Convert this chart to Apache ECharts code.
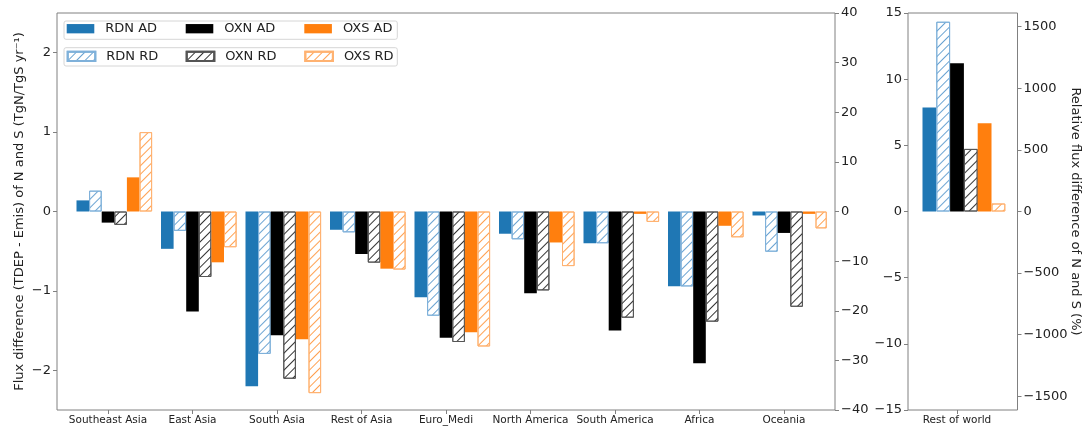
<!DOCTYPE html>
<html>
<head>
<meta charset="utf-8">
<script src="https://cdn.jsdelivr.net/npm/echarts@6/dist/echarts.min.js"></script>
<style>html,body{margin:0;padding:0;background:#fff}#c{width:1083px;height:426px}</style>
</head>
<body>
<div id="c"></div>
<script>
// ---- data ----
const categories = ['Southeast Asia','East Asia','South Asia','Rest of Asia','Euro_Medi','North America','South America','Africa','Oceania'];
// absolute differences (TgN/TgS yr-1)
const rdnAD = [0.14,-0.47,-2.20,-0.23,-1.08,-0.28,-0.40,-0.94,-0.05];
const oxnAD = [-0.14,-1.26,-1.56,-0.535,-1.59,-1.03,-1.50,-1.91,-0.27];
const oxsAD = [0.43,-0.64,-1.61,-0.72,-1.52,-0.39,-0.03,-0.18,-0.03];
// relative differences (%)
const rdnRD = [4.2,-3.9,-28.7,-4.2,-21.0,-5.6,-6.4,-15.1,-8.1];
const oxnRD = [-2.7,-13.2,-33.7,-10.3,-26.3,-15.9,-21.4,-22.2,-19.2];
const oxsRD = [16.0,-7.2,-36.6,-11.7,-27.2,-11.0,-2.1,-5.2,-3.4];
// rest of world
const worldCategories = ['Rest of world'];
const worldRdnAD = [7.85];
const worldOxnAD = [11.2];
const worldOxsAD = [6.67];
const worldRdnRD = [1540];
const worldOxnRD = [508];
const worldOxsRD = [65];
// tick labels
const leftTicks = [-2,-1,0,1,2];
const rightTicks = [-40,-30,-20,-10,0,10,20,30,40];
const worldLeftTicks = [-15,-10,-5,0,5,10,15];
const worldRightTicks = [-1500,-1000,-500,0,500,1000,1500];
const seriesNames = ['RDN AD','RDN RD','OXN AD','OXN RD','OXS AD','OXS RD'];

// ---- styles ----
const FONT = 'DejaVu Sans';
const TXT = '#222';
const FRAME = '#808080';
const fmt = v => (v < 0 ? '\u2212' + (-v) : String(v));
function hatch(edge, line){
  return {
    color: '#ffffff', borderColor: edge, borderWidth: 1,
    decal: { symbol: 'rect', symbolSize: 1, color: line, dashArrayX: [1, 0], dashArrayY: [1, 5], rotation: -Math.PI / 4 }
  };
}
const styles = {
  'RDN AD': { color: '#1f77b4' },
  'RDN RD': hatch('#7fb1da', '#6aa3d2'),
  'OXN AD': { color: '#000000' },
  'OXN RD': hatch('#555555', '#333333'),
  'OXS AD': { color: '#ff7f0e' },
  'OXS RD': hatch('#ffb271', '#ffa050')
};

function valAxis(gridIndex, pos, min, max, ticks, show, extra){
  const o = {
    type: 'value', gridIndex, position: pos, min, max, show,
    splitLine: { show: false },
    axisLine: { show: false },
    axisTick: { show: true, length: 4, lineStyle: { color: FRAME }, customValues: ticks },
    axisLabel: { show: true, fontFamily: FONT, fontSize: 13, color: TXT, margin: 6, formatter: fmt, customValues: ticks }
  };
  return Object.assign(o, extra || {});
}

const grids = [
  { left: 57, top: 13, width: 778, height: 397, show: true, borderColor: FRAME, borderWidth: 1, backgroundColor: 'transparent' },
  { left: 65.75, top: 13, width: 760.5, height: 397 },
  { left: 908, top: 13, width: 111, height: 397, show: true, borderColor: FRAME, borderWidth: 1, backgroundColor: 'transparent' },
  { left: 901.5, top: 13, width: 111, height: 397 }
];

function catAxis(gridIndex, data){
  return {
    type: 'category', gridIndex, data, position: 'bottom',
    axisLine: { show: true, onZero: false, lineStyle: { color: 'rgba(0,0,0,0)' } },
    axisTick: { show: true, alignWithLabel: true, length: 4, lineStyle: { color: FRAME } },
    axisLabel: { fontFamily: FONT, fontSize: 10.5, color: TXT, margin: 5, interval: 0 }
  };
}

const xAxis = [
  { type: 'value', gridIndex: 0, show: false, min: 0, max: 1 },
  catAxis(1, categories),
  { type: 'value', gridIndex: 2, show: false, min: 0, max: 1 },
  catAxis(3, worldCategories)
];

const yAxis = [
  valAxis(0, 'left', -2.5, 2.5, leftTicks, true, {
    name: 'Flux difference (TDEP - Emis) of N and S (TgN/TgS yr\u207B\u00B9)',
    nameLocation: 'middle', nameGap: 31, nameMoveOverlap: false,
    nameTextStyle: { fontFamily: FONT, fontSize: 13, color: TXT }
  }),
  valAxis(0, 'right', -40, 40, rightTicks, true),
  { type: 'value', gridIndex: 1, min: -2.5, max: 2.5, show: false, splitLine: { show: false } },
  { type: 'value', gridIndex: 1, min: -40, max: 40, show: false, splitLine: { show: false } },
  valAxis(2, 'left', -15, 15, worldLeftTicks, true),
  valAxis(2, 'right', -1611, 1611, worldRightTicks, true, {
    name: 'Relative flux difference of N and S (%)',
    nameLocation: 'middle', nameGap: 51.5, nameRotate: -90, nameMoveOverlap: false,
    nameTextStyle: { fontFamily: FONT, fontSize: 13, color: TXT }
  }),
  { type: 'value', gridIndex: 3, min: -15, max: 15, show: false, splitLine: { show: false } },
  { type: 'value', gridIndex: 3, min: -1611, max: 1611, show: false, splitLine: { show: false } }
];

function bar(name, data, xi, yi, w){
  return {
    type: 'bar', name, data, xAxisIndex: xi, yAxisIndex: yi,
    barWidth: w, barGap: '0%', itemStyle: styles[name],
    emphasis: { disabled: true }, animation: false
  };
}
const series = [];
// panel 1 (a leading empty slot so that the 3rd bar sits on the tick)
series.push({ type: 'bar', name: '_pad', data: [], xAxisIndex: 1, yAxisIndex: 2, barWidth: 12.6, barGap: '0%' });
series.push(bar('RDN AD', rdnAD, 1, 2, 12.6));
series.push(bar('RDN RD', rdnRD, 1, 3, 12.6));
series.push(bar('OXN AD', oxnAD, 1, 2, 12.6));
series.push(bar('OXN RD', oxnRD, 1, 3, 12.6));
series.push(bar('OXS AD', oxsAD, 1, 2, 12.6));
series.push(bar('OXS RD', oxsRD, 1, 3, 12.6));
// panel 2
series.push({ type: 'bar', name: '_pad', data: [], xAxisIndex: 3, yAxisIndex: 6, barWidth: 13.8, barGap: '0%' });
series.push(bar('RDN AD', worldRdnAD, 3, 6, 13.8));
series.push(bar('RDN RD', worldRdnRD, 3, 7, 13.8));
series.push(bar('OXN AD', worldOxnAD, 3, 6, 13.8));
series.push(bar('OXN RD', worldOxnRD, 3, 7, 13.8));
series.push(bar('OXS AD', worldOxsAD, 3, 6, 13.8));
series.push(bar('OXS RD', worldOxsRD, 3, 7, 13.8));

// legends: two framed rows
const legendPos = {
  'RDN AD': [66.7, 20.7], 'OXN AD': [185.7, 20.7], 'OXS AD': [304.3, 20.7],
  'RDN RD': [66.7, 48.3], 'OXN RD': [185.7, 48.3], 'OXS RD': [304.3, 48.3]
};
const legend = seriesNames.map(n => ({
  data: [n], left: legendPos[n][0], top: legendPos[n][1], padding: 0,
  itemWidth: 27.6, itemHeight: 9.3, icon: 'rect', selectedMode: false,
  textStyle: { fontFamily: FONT, fontSize: 13, color: TXT, lineHeight: 16, padding: [0, 0, 0, 6] }
}));

const option = {
  backgroundColor: '#fff',
  animation: false,
  grid: grids, xAxis, yAxis, series, legend,
  graphic: [
    { type: 'rect', shape: { x: 64, y: 21, width: 333.3, height: 18.3, r: 2 }, style: { fill: '#fff', stroke: '#d6d6d6', lineWidth: 1 }, z: 3 },
    { type: 'rect', shape: { x: 64, y: 47.7, width: 333.3, height: 18.3, r: 2 }, style: { fill: '#fff', stroke: '#d6d6d6', lineWidth: 1 }, z: 3 }
  ]
};
const chart = echarts.init(document.getElementById('c'), null, { renderer: 'canvas' });
chart.setOption(option);
</script>
</body>
</html>
